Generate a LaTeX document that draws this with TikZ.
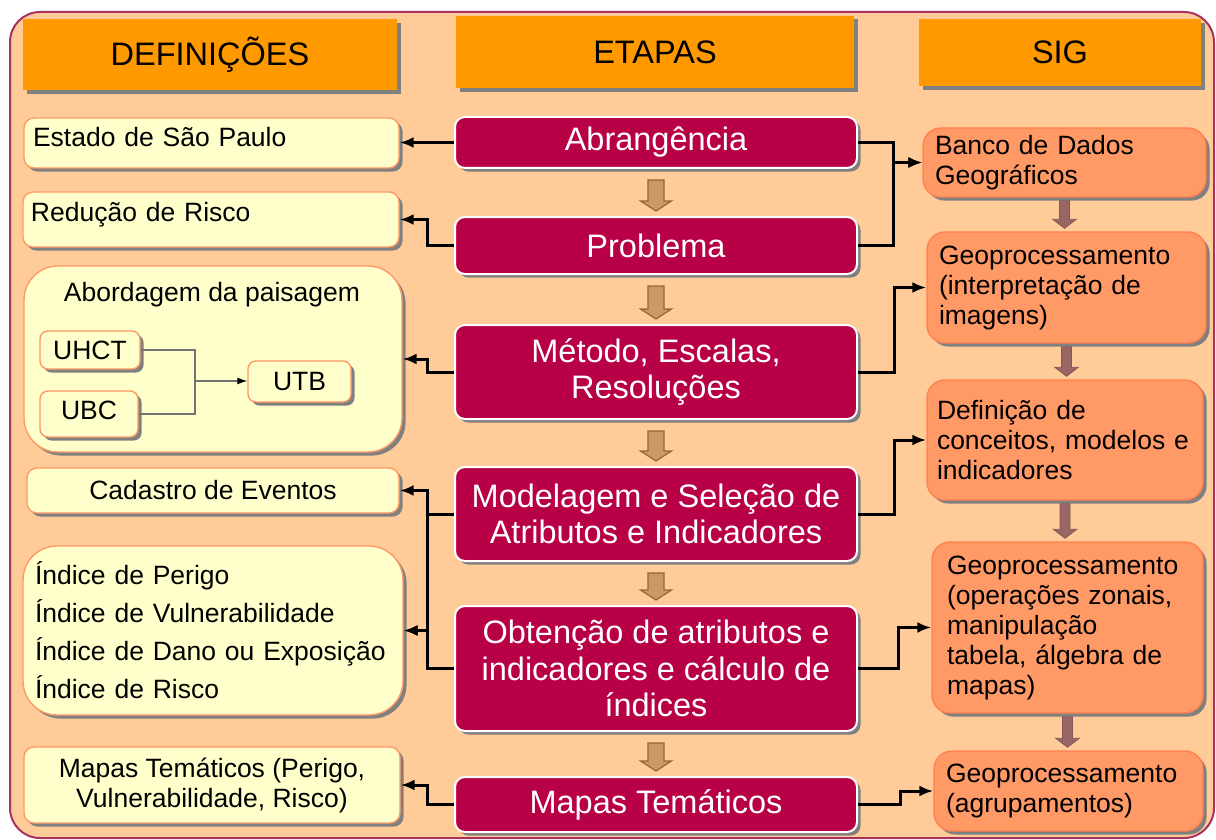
\documentclass[tikz,border=0pt]{standalone}
\usepackage{fontspec}
\setmainfont{Liberation Sans}
\usetikzlibrary{calc, shadows, arrows.meta}

\definecolor{fundo}{HTML}{FFCC99}
\definecolor{bordafundo}{HTML}{A8325E}
\definecolor{laranja}{HTML}{FF9900}
\definecolor{vinho}{HTML}{B80047}
\definecolor{creme}{HTML}{FFFFCC}
\definecolor{salmao}{HTML}{FF9966}
\definecolor{salmaoesc}{HTML}{FF8050}
\definecolor{cinzasombra}{HTML}{808080}
\definecolor{setabege}{HTML}{CC9966}
\definecolor{setabegeesc}{HTML}{996633}
\definecolor{setarosa}{HTML}{996666}

% wide arrow between two steps of the middle column
\newcommand{\setaetapa}[2]{%
  \draw[setaetapa] ($(#1.south)+(-8,11)$) -- ($(#1.south |- #2.north)+(-8,-15)$) -- ++(-7.5,0)
    -- ($(#1.south |- #2.north)+(0,-5)$) -- ($(#1.south |- #2.north)+(15.5,-15)$) -- ++(-7.5,0)
    -- ($(#1.south)+(8,11)$) -- cycle;}
% wide arrow between two boxes of the SIG column
\newcommand{\setasig}[2]{%
  \draw[setasig] ($(#1.south)+(-5,3)$) -- ($(#1.south |- #2.north)+(-5,-12)$) -- ++(-6.7,0)
    -- ($(#1.south |- #2.north)+(0,-3)$) -- ($(#1.south |- #2.north)+(11.7,-12)$) -- ++(-6.7,0)
    -- ($(#1.south)+(5,3)$) -- cycle;}

\begin{document}
\begin{tikzpicture}[x=0.5pt, y=-0.5pt]
        \tikzset{
            >={Latex[length=7pt,width=5.5pt]}, % arrow heads of the black links
            comsombra/.style={drop shadow={shadow xshift=1.8pt, shadow yshift=-1.8pt, fill=cinzasombra, opacity=1}}, % grey shadow
            cabecalho/.style={fill=laranja, inner sep=0pt, comsombra, font=\fontsize{16.25}{19}\selectfont}, % column heads
            etapa/.style={fill=vinho, draw=white, line width=1pt, rounded corners=5pt, text=white, minimum width=201pt, inner ysep=1pt, align=center, comsombra, font=\fontsize{16.25}{18.25}\selectfont},
            definicao/.style={fill=creme, draw=salmao, line width=0.7pt, rounded corners=5pt, comsombra, font=\fontsize{13.25}{15}\selectfont},
            sig/.style={fill=salmao, draw=salmaoesc, line width=0.7pt, rounded corners=9pt, align=left, inner xsep=6pt, inner ysep=2pt, comsombra, font=\fontsize{13.25}{15}\selectfont},
            ligacao/.style={->, draw=black, line width=1.5pt}, % black elbow links
            fino/.style={draw=black!55, line width=0.6pt}, % thin links inside the landscape box
            setaetapa/.style={fill=setabege, draw=setabegeesc, line width=0.6pt},
            setasig/.style={fill=setarosa, draw=setarosa!85!black, line width=0.4pt},
            }

        \useasboundingbox (0,0) rectangle (1216,840);
        \draw[fill=fundo, draw=bordafundo, line width=1pt, rounded corners=15pt] (10,12) rectangle (1214,838);

        % column heads
        \node[cabecalho, minimum width=187pt, minimum height=35.5pt] (cab_def) at (210,54.5) {DEFINIÇÕES};
        \node[cabecalho, minimum width=199pt, minimum height=36.3pt] (cab_etapas) at (655,52) {ETAPAS};
        \node[cabecalho, minimum width=141pt, minimum height=33.5pt] (cab_sig) at (1060,52.5) {SIG};

        % etapas nodes
        \node[etapa, minimum height=25.5pt] (abrangencia) at (656,142.5) {Abrangência};
        \node[etapa, minimum height=28.5pt] (problema) at (656,245.5) {Problema};
        \node[etapa, minimum height=47pt] (metodo) at (656,372) {Método, Escalas,\\Resoluções};
        \node[etapa, minimum height=47pt] (modelagem) at (656,514) {Modelagem e Seleção de\\Atributos e Indicadores};
        \node[etapa, minimum height=62.5pt] (obtencao) at (656,668.5) {Obtenção de atributos e\\indicadores e cálculo de\\índices};
        \node[etapa, minimum height=27.5pt] (mapas) at (656,804.5) {Mapas Temáticos};

        % definicoes nodes
        \node[definicao, inner xsep=4.5pt, inner ysep=0pt, text width=178.5pt, align=left, minimum height=25pt] (estado_sp) at (211.5,143) {\raisebox{3pt}[10pt][0pt]{Estado de São Paulo}};
        \node[definicao, inner xsep=4pt, inner ysep=0pt, text width=180pt, align=left, minimum height=27.5pt] (reducao) at (211,219.5) {\raisebox{4.25pt}[10pt][0pt]{Redução de Risco}};
        \node[definicao, rounded corners=17pt, minimum width=189pt, minimum height=93pt] (abordagem) at (213,359) {};
        \node[font=\fontsize{13.25}{15}\selectfont] (abordagem_tit) at (212,295) {Abordagem da paisagem};
        \node[definicao, rounded corners=4pt, inner sep=0pt, minimum width=50pt, minimum height=19pt] (uhct) at (90,350) {UHCT};
        \node[definicao, rounded corners=4pt, inner sep=0pt, text depth=3.5pt, minimum width=49pt, minimum height=23pt] (ubc) at (89,414) {UBC};
        \node[definicao, rounded corners=4pt, inner sep=0pt, minimum width=51.5pt, minimum height=20.5pt] (utb) at (299.5,381.5) {UTB};
        \node[definicao, inner sep=0pt, minimum width=186pt, minimum height=22.5pt] (cadastro) at (213,490.5) {Cadastro de Eventos};
        \node[definicao, rounded corners=17pt, inner xsep=6pt, text width=178pt, align=left, minimum height=84.5pt, font=\fontsize{13.25}{19}\selectfont] (indices) at (213,630.5) {Índice de Perigo\\Índice de Vulnerabilidade\\Índice de Dano ou Exposição\\Índice de Risco};
        \node[definicao, inner sep=0pt, align=center, minimum width=188pt, minimum height=38pt] (mapas_def) at (212,785) {Mapas Temáticos (Perigo,\\Vulnerabilidade, Risco)};

        % sig nodes
        \node[sig, text width=129.5pt, minimum height=34.5pt] (banco) at (1064.5,162.5) {Banco de Dados\\Geográficos};
        \node[sig, text width=127.5pt, minimum height=55.5pt] (geo_imagens) at (1066.5,287.5) {Geoprocessamento\\(interpretação de\\imagens)};
        \node[sig, inner xsep=5pt, text width=128pt, minimum height=60pt] (definicao_sig) at (1065,440) {Definição de\\conceitos, modelos e\\indicadores};
        \node[sig, inner xsep=7.5pt, text width=120.5pt, minimum height=85.5pt] (geo_zonais) at (1067.5,627.5) {Geoprocessamento\\(operações zonais,\\manipulação\\tabela, álgebra de\\mapas)};
        \node[sig, text width=122.5pt, minimum height=40pt] (geo_grupos) at (1068.5,791) {Geoprocessamento\\(agrupamentos)};

        % wide arrows
        \setaetapa{abrangencia}{problema}
        \setaetapa{problema}{metodo}
        \setaetapa{metodo}{modelagem}
        \setaetapa{modelagem}{obtencao}
        \setaetapa{obtencao}{mapas}
        \setasig{banco}{geo_imagens}
        \setasig{geo_imagens}{definicao_sig}
        \setasig{definicao_sig}{geo_zonais}
        \setasig{geo_zonais}{geo_grupos}

        % definicoes paths
        \draw[ligacao] (abrangencia.west) -- (abrangencia.west -| estado_sp.east);
        \draw[ligacao] (problema.west) -- ++(-27,0) |- (reducao.east);
        \draw[ligacao] (metodo.west) -- ++(-27,0) |- (abordagem.east);
        \draw[ligacao] (modelagem.west) -- ++(-27,0) |- (cadastro.east);
        \draw[ligacao] (modelagem.west) -- ++(-27,0) |- (indices.east);
        \draw[ligacao] (obtencao.west) -- ++(-27,0) |- (indices.east);
        \draw[ligacao] (mapas.west) -- ++(-27,0) |- (mapas_def.east);

        % sig paths
        \draw[ligacao] (abrangencia.east) -- ++(35,0) |- (banco.west);
        \draw[ligacao] (problema.east) -- ++(35,0) |- (banco.west);
        \draw[ligacao] (metodo.east) -- ++(36,0) |- (geo_imagens.west);
        \draw[ligacao] (modelagem.east) -- ++(36,0) |- (definicao_sig.west);
        \draw[ligacao] (obtencao.east) -- ++(40,0) |- (geo_zonais.west);
        \draw[ligacao] (mapas.east) -- ++(42,0) |- (geo_grupos.west);

        % landscape units paths
        \coordinate (juncao) at (195,381);
        \draw[fino] (uhct.east) -| (juncao);
        \draw[fino] (ubc.east) -| (juncao);
        \draw[fino, -{Latex[length=5pt,width=3.5pt,color=black]}] (juncao) -- (juncao -| utb.west);
\end{tikzpicture}
\end{document}
